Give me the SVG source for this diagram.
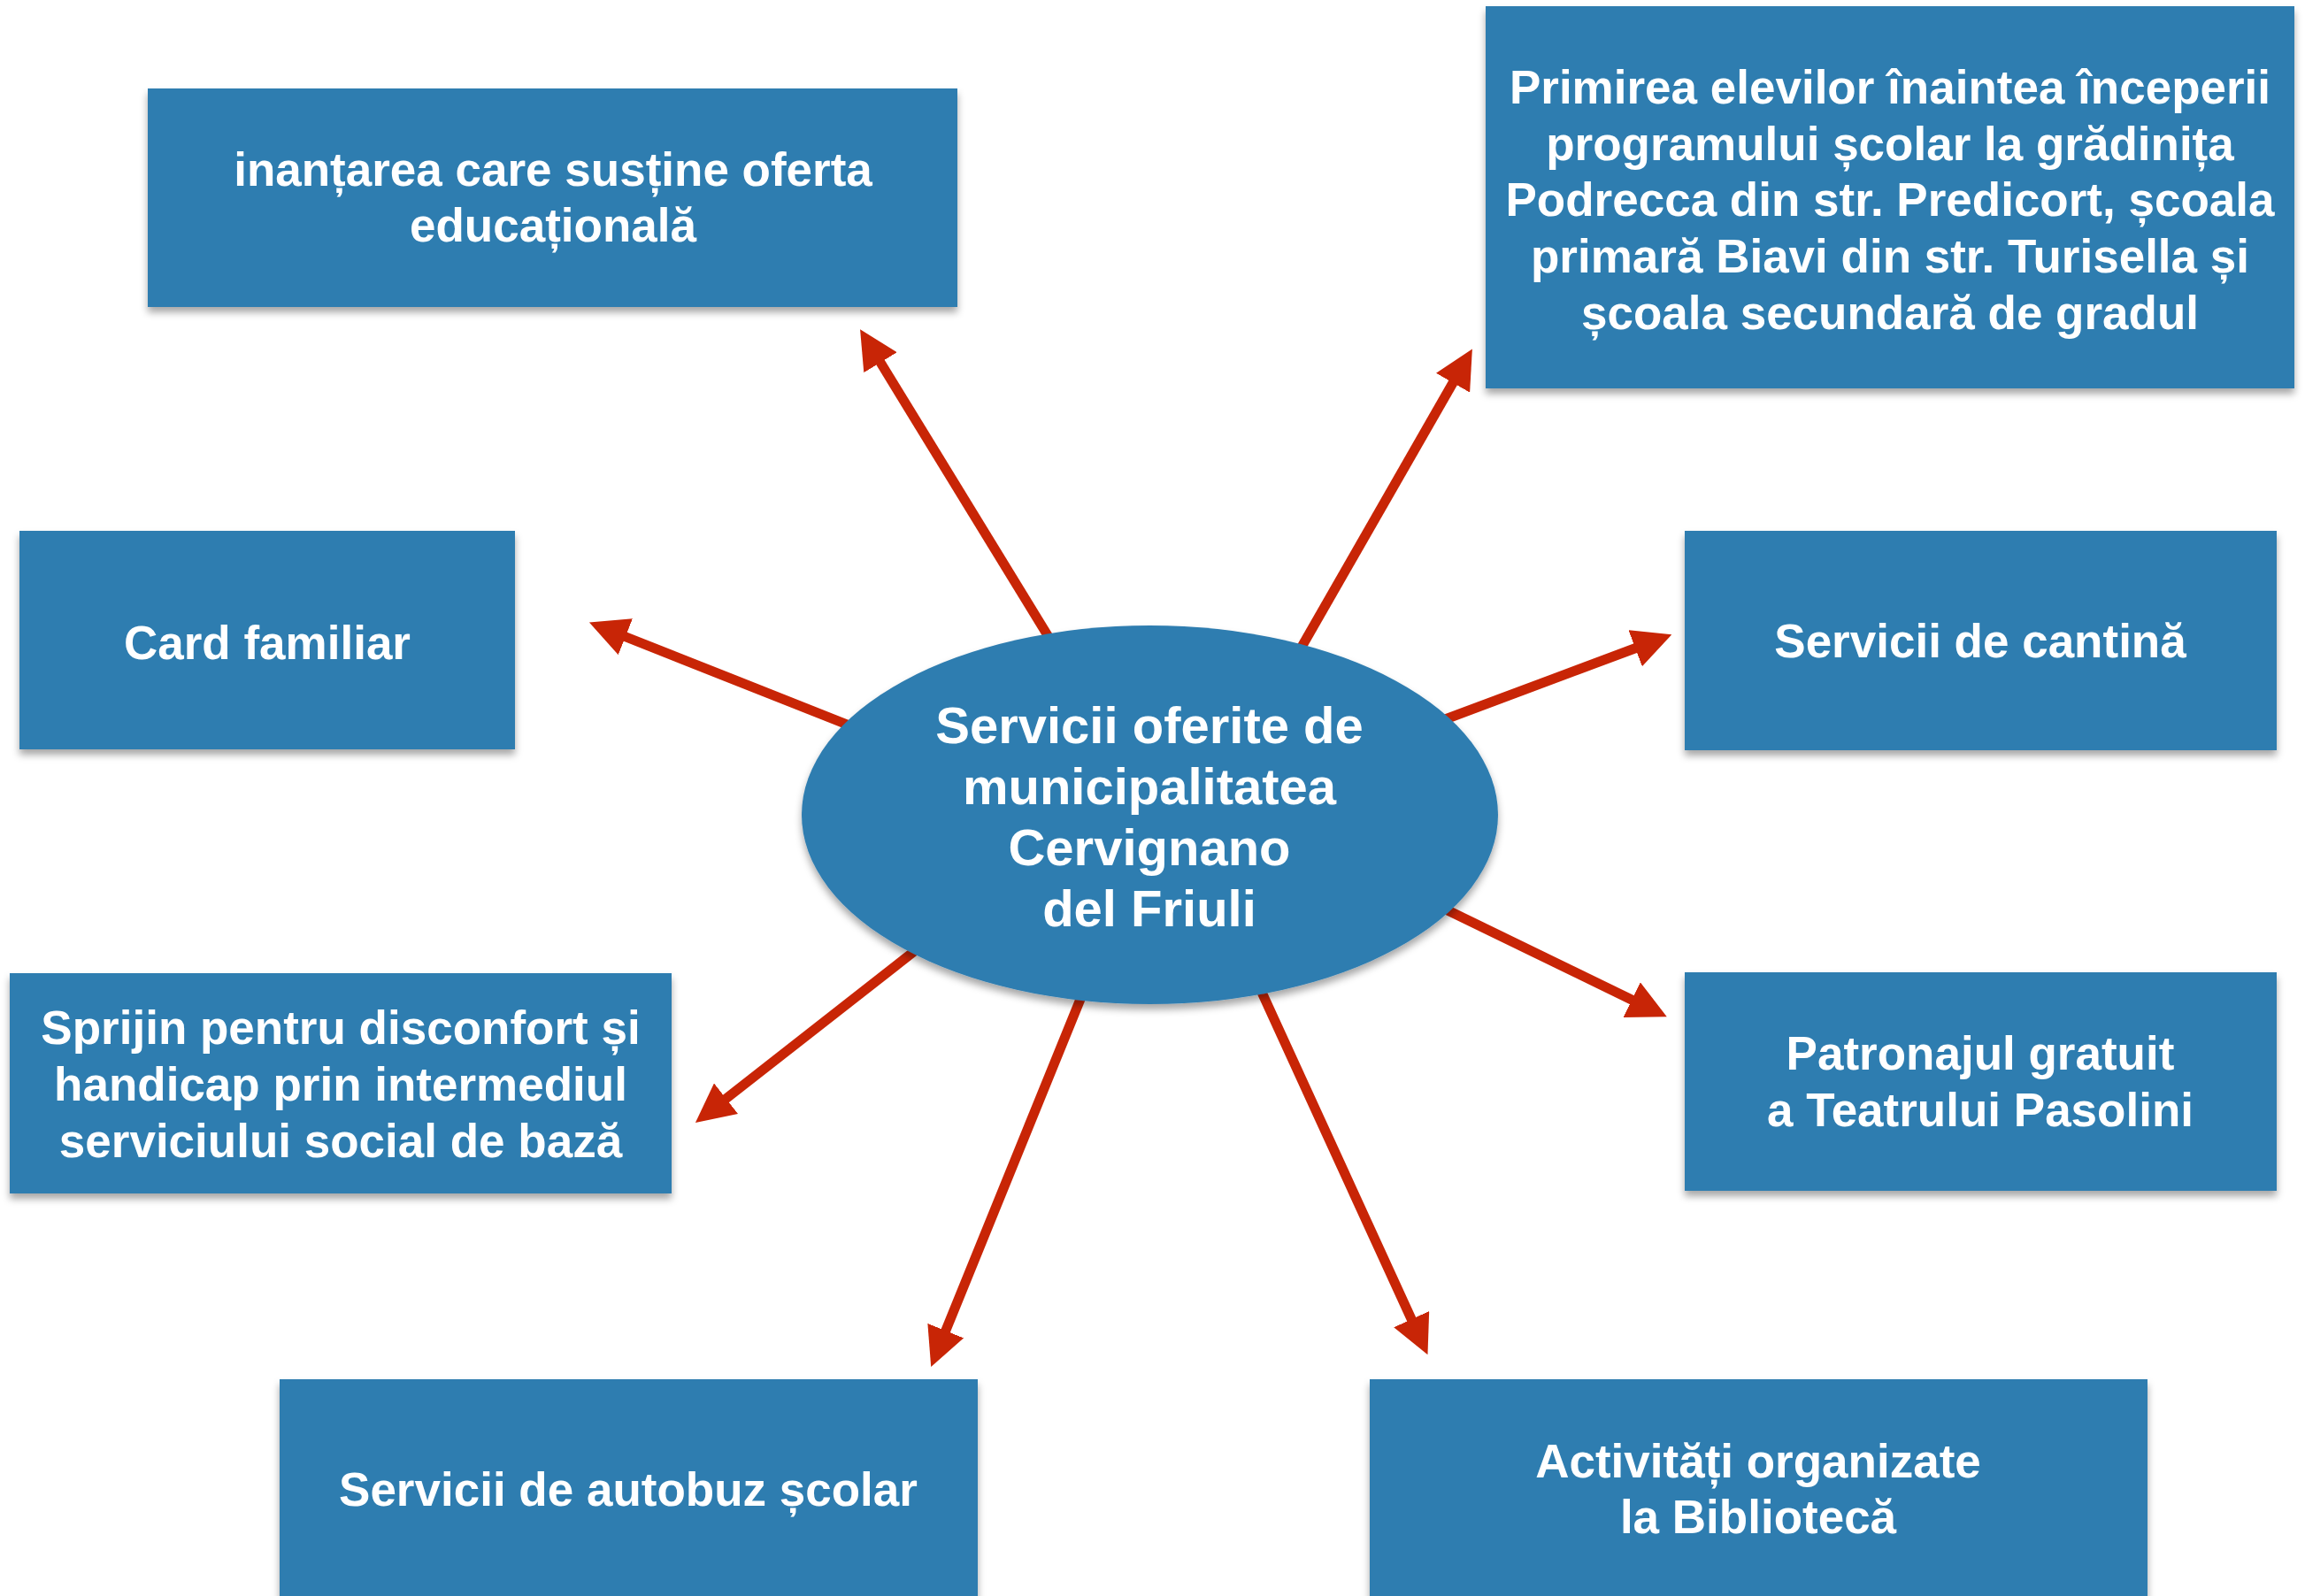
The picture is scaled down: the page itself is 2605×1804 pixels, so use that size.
<svg xmlns="http://www.w3.org/2000/svg" width="2605" height="1804" viewBox="0 0 2605 1804">
<style>
.box{fill:#2f7db0;filter:url(#sh);}
.t{fill:#ffffff;font-family:"Liberation Sans",Arial,Helvetica,sans-serif;font-weight:bold;font-size:53px;text-anchor:middle;}
.tc{font-size:58px;}
.c{stroke:#c82506;stroke-width:11;fill:none;marker-end:url(#ah);}
</style>
<defs>
<filter id="sh" x="-5%" y="-5%" width="110%" height="115%">
<feDropShadow dx="0" dy="6" stdDeviation="4" flood-color="#000000" flood-opacity="0.35"/>
</filter>
<marker id="ah" markerUnits="userSpaceOnUse" markerWidth="44" markerHeight="44" refX="2" refY="22" orient="auto" viewBox="0 0 44 44">
<path d="M0,0 L44,22 L0,44 z" fill="#c82506"/>
</marker>
</defs>
<rect width="2605" height="1804" fill="#ffffff"/>
<g id="connectors">
<line class="c" x1="1190" y1="728" x2="994" y2="408"/>
<line class="c" x1="1466" y1="740" x2="1643" y2="431"/>
<line class="c" x1="965" y1="822" x2="705" y2="719"/>
<line class="c" x1="1628" y1="815" x2="1850" y2="732"/>
<line class="c" x1="1040" y1="1070" x2="819" y2="1243"/>
<line class="c" x1="1630" y1="1026" x2="1846" y2="1131"/>
<line class="c" x1="1224" y1="1122" x2="1068" y2="1506"/>
<line class="c" x1="1423" y1="1115" x2="1596" y2="1493"/>
</g>
<g id="center">
<ellipse class="box" cx="1299.5" cy="921" rx="393.5" ry="214"/>
<text class="t tc" x="1299" y="840">Servicii oferite de</text>
<text class="t tc" x="1299" y="909">municipalitatea</text>
<text class="t tc" x="1299" y="978">Cervignano</text>
<text class="t tc" x="1299" y="1047">del Friuli</text>
</g>
<g id="n1">
<rect class="box" x="167" y="100" width="915" height="247"/>
<text class="t" x="625" y="210">inanțarea care susține oferta</text>
<text class="t" x="625" y="273">educațională</text>
</g>
<g id="n2">
<rect class="box" x="1679" y="7" width="914" height="432"/>
<text class="t" x="2136" y="117">Primirea elevilor înaintea începerii</text>
<text class="t" x="2136" y="181">programului școlar la grădinița</text>
<text class="t" x="2136" y="244">Podrecca din str. Predicort, școala</text>
<text class="t" x="2136" y="308">primară Biavi din str. Turisella și</text>
<text class="t" x="2136" y="372">școala secundară de gradul</text>
</g>
<g id="n3">
<rect class="box" x="22" y="600" width="560" height="247"/>
<text class="t" x="302" y="745">Card familiar</text>
</g>
<g id="n4">
<rect class="box" x="1904" y="600" width="669" height="248"/>
<text class="t" x="2238" y="743">Servicii de cantină</text>
</g>
<g id="n5">
<rect class="box" x="11" y="1100" width="748" height="249"/>
<text class="t" x="385" y="1180">Sprijin pentru disconfort și</text>
<text class="t" x="385" y="1244">handicap prin intermediul</text>
<text class="t" x="385" y="1308">serviciului social de bază</text>
</g>
<g id="n6">
<rect class="box" x="1904" y="1099" width="669" height="247"/>
<text class="t" x="2238" y="1209">Patronajul gratuit</text>
<text class="t" x="2238" y="1273">a Teatrului Pasolini</text>
</g>
<g id="n7">
<rect class="box" x="316" y="1559" width="789" height="260"/>
<text class="t" x="710" y="1702">Servicii de autobuz școlar</text>
</g>
<g id="n8">
<rect class="box" x="1548" y="1559" width="879" height="260"/>
<text class="t" x="1987" y="1670">Activități organizate</text>
<text class="t" x="1987" y="1733">la Bibliotecă</text>
</g>
</svg>
